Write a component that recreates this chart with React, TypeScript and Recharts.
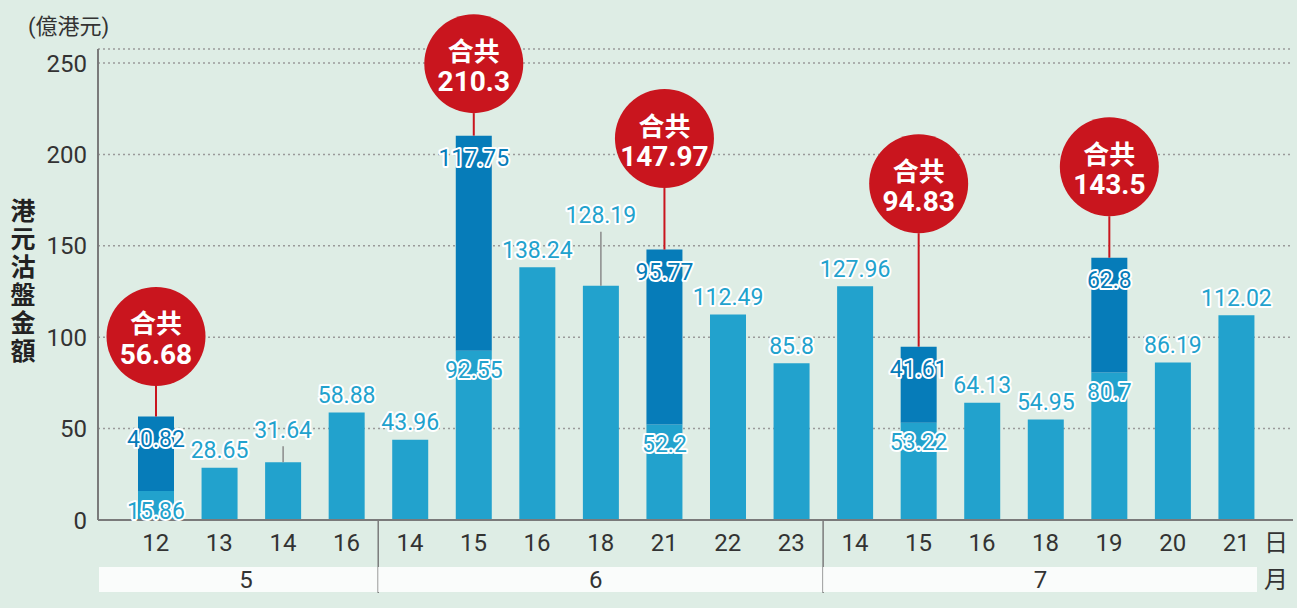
import { BarChart, Bar, XAxis, YAxis, CartesianGrid, LabelList } from 'recharts';

// trading days, grouped by month
const days = ['12', '13', '14', '16', '14', '15', '16', '18', '21', '22', '23', '14', '15', '16', '18', '19', '20', '21'];
const months = ['5', '5', '5', '5', '6', '6', '6', '6', '6', '6', '6', '7', '7', '7', '7', '7', '7', '7'];

// lower (light) segment, or the whole bar when there is only one
const baseValues = [15.86, 28.65, 31.64, 58.88, 43.96, 92.55, 138.24, 128.19, 52.2, 112.49, 85.8, 127.96, 53.22, 64.13, 54.95, 80.7, 86.19, 112.02];
// upper (dark) segment
const topValues = [40.82, null, null, null, null, 117.75, null, null, 95.77, null, null, null, 41.61, null, null, 62.8, null, null];
// shown in the red callouts
const totals = [56.68, null, null, null, null, 210.3, null, null, 147.97, null, null, null, 94.83, null, null, 143.5, null, null];

const yTicks = [0, 50, 100, 150, 200, 250];

const data = days.map((d, i) => ({ key: `${months[i]}-${d}-${i}`, day: d, base: baseValues[i], top: topValues[i] }));

const BG = '#deede5';
const LIGHT = '#22a2cd';
const DARK = '#067cb9';
const RED = '#c9151e';
const AXIS = '#7a7a7a';
const FONT = 'Roboto, "Noto Sans CJK TC", sans-serif';

const W = 1297;
const H = 608;
const Y_AXIS_W = 60;
const MARGIN = { top: 49, right: 4, bottom: 0, left: 38 };
const PAD = { left: 26, right: 25 };
const STEP = (W - MARGIN.left - MARGIN.right - Y_AXIS_W - PAD.left - PAD.right) / days.length;

// label layout tweaks (px), keyed by bar index
const leaderLift: Record<number, number> = { 2: 32, 7: 70 };
const calloutLift: Record<number, number> = { 0: 80, 5: 72, 8: 111, 12: 163, 15: 91 };
const R = 49.5;

const outlined = {
  fontSize: 23,
  fontFamily: FONT,
  stroke: '#fff',
  strokeWidth: 4,
  strokeLinejoin: 'round' as const,
  paintOrder: 'stroke' as const,
  textAnchor: 'middle' as const,
  dominantBaseline: 'central' as const,
};

const BaseLabel = (props: any) => {
  const { x, y, width, value } = props;
  if (value == null) return null;
  const index = baseValues.indexOf(value);
  const cx = x + width / 2;
  if (topValues[index] != null) {
    return (
      <text x={cx} y={y + 20} fill={LIGHT} {...outlined}>{value}</text>
    );
  }
  const lift = leaderLift[index];
  if (lift) {
    const ly = y - lift;
    return (
      <g>
        <line x1={cx} x2={cx} y1={y} y2={ly + 16} stroke="#8a8a8a" strokeWidth={1.5} />
        <text x={cx} y={ly} fill={LIGHT} {...outlined}>{value}</text>
      </g>
    );
  }
  return <text x={cx} y={y - 17} fill={LIGHT} {...outlined}>{value}</text>;
};

const TopLabel = (props: any) => {
  const { x, y, width, value } = props;
  if (value == null) return null;
  const index = topValues.indexOf(value);
  const cx = x + width / 2;
  const total = totals[index];
  const cy = y - (calloutLift[index] ?? 80);
  return (
    <g>
      <text x={cx} y={y + 23} fill={DARK} {...outlined}>{value}</text>
      {total != null && (
        <g>
          <line x1={cx} x2={cx} y1={y} y2={cy + R} stroke={RED} strokeWidth={2} />
          <circle cx={cx} cy={cy} r={R} fill={RED} />
          <text x={cx} y={cy - 12} fill="#fff" fontSize={26} fontWeight={700} fontFamily={FONT} textAnchor="middle" dominantBaseline="central">合共</text>
          <text x={cx} y={cy + 18} fill="#fff" fontSize={28} fontWeight={700} fontFamily={FONT} textAnchor="middle" dominantBaseline="central">{total}</text>
        </g>
      )}
    </g>
  );
};

const DayTick = (props: any) => {
  const { x, y, payload, index } = props;
  const i = index;
  const month = months[i];
  const isFirst = i === 0 || months[i - 1] !== month;
  const count = months.filter((m) => m === month).length;
  const n = days.length;
  let group = null;
  if (isFirst) {
    const lastIdx = i + count - 1;
    const left = i === 0 ? x - STEP / 2 - PAD.left + 1 : x - STEP / 2;
    const right = lastIdx === n - 1 ? x + (count - 1) * STEP + STEP / 2 - 11 : x + (count - 1) * STEP + STEP / 2;
    group = (
      <g>
        <rect x={left} y={y + 47} width={right - left} height={25} fill="#fafcfb" />
        <text x={x + ((count - 1) * STEP) / 2 - 5} y={y + 60} fill="#333" fontSize={24} fontFamily={FONT} textAnchor="middle" dominantBaseline="central">{month}</text>
        {lastIdx < n - 1 && (
          <line x1={right} x2={right} y1={y} y2={y + 73} stroke={AXIS} strokeWidth={1.5} />
        )}
      </g>
    );
  }
  return (
    <g>
      {group}
      <text x={x} y={y + 23} fill="#333" fontSize={24} fontFamily={FONT} textAnchor="middle" dominantBaseline="central">{payload.value}</text>
    </g>
  );
};

const App = () => {
  return (
    <div style={{ position: 'absolute', left: 0, top: 0, width: W, height: H, background: BG, fontFamily: FONT }}>
      <BarChart width={W} height={H} data={data} margin={MARGIN} barSize={36}>
        <CartesianGrid vertical={false} stroke="#9a9a9a" strokeDasharray="2 3" strokeWidth={1.5} />
        <XAxis
          dataKey="day"
          interval={0}
          height={88}
          padding={PAD}
          tickLine={false}
          tickSize={0}
          tickMargin={0}
          axisLine={{ stroke: AXIS, strokeWidth: 2 }}
          tick={<DayTick />}
        />
        <YAxis
          width={Y_AXIS_W}
          domain={[0, 257.7]}
          ticks={yTicks}
          tickLine={false}
          tickSize={0}
          tickMargin={11}
          axisLine={{ stroke: AXIS, strokeWidth: 2 }}
          tick={{ fill: '#333', fontSize: 24, fontFamily: FONT }}
        />
        <Bar dataKey="base" stackId="a" fill={LIGHT} isAnimationActive={false}>
          <LabelList dataKey="base" content={<BaseLabel />} />
        </Bar>
        <Bar dataKey="top" stackId="a" fill={DARK} isAnimationActive={false}>
          <LabelList dataKey="top" content={<TopLabel />} />
        </Bar>
      </BarChart>
      <div style={{ position: 'absolute', left: 28, top: 12, fontSize: 22, color: '#333', lineHeight: '30px' }}>(億港元)</div>
      <div style={{ position: 'absolute', left: 9, top: 198, width: 28, fontSize: 25, fontWeight: 700, color: '#222', lineHeight: '28px', textAlign: 'center' }}>
        {'港元沽盤金額'.split('').map((c, i) => (
          <div key={i}>{c}</div>
        ))}
      </div>
      <div style={{ position: 'absolute', left: 1264, top: 528, fontSize: 24, color: '#333', lineHeight: '30px' }}>日</div>
      <div style={{ position: 'absolute', left: 1264, top: 565, fontSize: 24, color: '#333', lineHeight: '30px' }}>月</div>
    </div>
  );
};

export default App;
